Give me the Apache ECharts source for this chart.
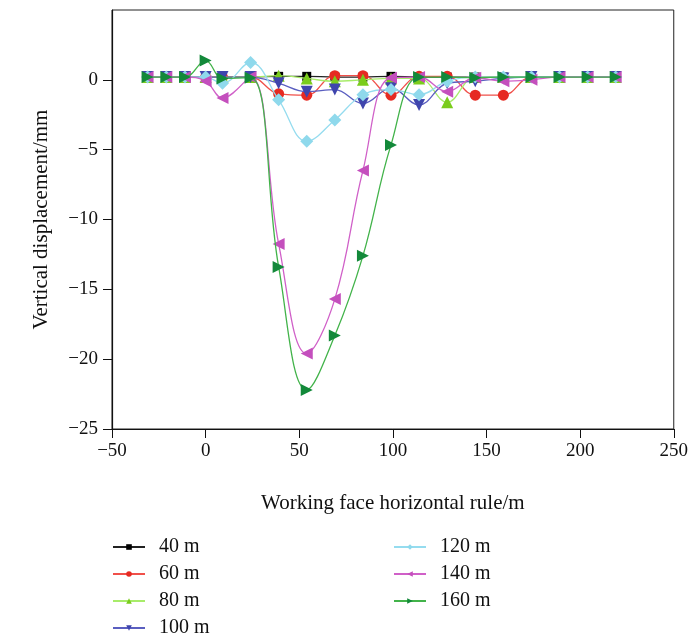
<!DOCTYPE html>
<html>
<head>
<meta charset="utf-8">
<script src="https://cdn.jsdelivr.net/npm/echarts@6/dist/echarts.min.js"></script>
<style>
  html, body { margin: 0; padding: 0; background: #fff; }
  #chart { width: 691px; height: 637px; }
</style>
</head>
<body>
<div id="chart"></div>
<script>
// 横坐标 (m)
const xs = [-31, -21, -11, 0, 9, 24, 39, 54, 69, 84, 99, 114, 129, 144, 159, 174, 189, 204, 219];

// 各工作面推进距离下的竖向位移 (mm)
const s40 = [0.2, 0.2, 0.2, 0.2, 0.2, 0.2, 0.25, 0.25, 0.2, 0.2, 0.25, 0.2, 0.2, 0.2, 0.2, 0.2, 0.2, 0.2, 0.2];
const s60 = [0.2, 0.2, 0.2, 0.2, 0.2, 0.2, -1.0, -1.1, 0.3, 0.3, -1.1, 0.25, 0.25, -1.1, -1.1, 0.2, 0.2, 0.2, 0.2];
const s80 = [0.2, 0.2, 0.2, 0.2, 0.2, 0.2, 0.3, 0.1, -0.1, 0.0, 0.1, 0.1, -1.6, 0.2, 0.2, 0.2, 0.2, 0.2, 0.2];
const s100 = [0.2, 0.2, 0.2, 0.2, 0.2, 0.2, -0.25, -0.85, -0.7, -1.7, -0.6, -1.8, -0.25, -0.1, 0.1, 0.2, 0.2, 0.2, 0.2];
const s120 = [0.2, 0.2, 0.2, 0.2, -0.25, 1.24, -1.43, -4.4, -2.87, -1.07, -0.7, -1.07, -0.1, 0.2, 0.2, 0.2, 0.2, 0.2, 0.2];
const s140 = [0.2, 0.2, 0.2, -0.1, -1.3, 0.2, -11.75, -19.6, -15.7, -6.5, 0.15, 0.2, -0.85, 0.15, -0.1, 0.0, 0.2, 0.2, 0.2];
const s160 = [0.2, 0.2, 0.2, 1.38, 0.1, 0.15, -13.4, -22.2, -18.3, -12.6, -4.66, 0.2, 0.2, 0.15, 0.2, 0.2, 0.2, 0.2, 0.2];

const names = ["40 m", "60 m", "80 m", "100 m", "120 m", "140 m", "160 m"];
const yTicks = [-25, -20, -15, -10, -5, 0];

const font = "Liberation Serif";
const minus = (v) => String(v).replace("-", "\u2212");

// 系列样式
const styles = [
  { data: s40, line: "#222222", mark: "#000000", symbol: "rect", size: 9, rotate: 0 },
  { data: s60, line: "#f0504a", mark: "#e62a22", symbol: "circle", size: 11, rotate: 0 },
  { data: s80, line: "#a8ec6a", mark: "#7acc1c", symbol: "triangle", size: 12, rotate: 0 },
  { data: s100, line: "#5a5ec0", mark: "#3f45ad", symbol: "triangle", size: 12, rotate: 180 },
  { data: s120, line: "#95dcef", mark: "#8fd9ec", symbol: "diamond", size: 13, rotate: 0 },
  { data: s140, line: "#d060c8", mark: "#c44fbd", symbol: "triangle", size: 12, rotate: 90 },
  { data: s160, line: "#42b34a", mark: "#13893a", symbol: "triangle", size: 12, rotate: -90 },
];

const seriesConfig = styles.map((s, i) => ({
  name: names[i],
  type: "line",
  data: xs.map((x, k) => [x, s.data[k]]),
  smooth: 0.4,
  symbol: s.symbol,
  symbolSize: s.size,
  symbolRotate: s.rotate,
  lineStyle: { color: s.line, width: 1.3 },
  itemStyle: { color: s.mark },
  z: 2 + i,
}));

const legendCommon = {
  orient: "vertical",
  itemWidth: 32,
  itemHeight: 7,
  itemGap: 7,
  padding: 0,
  height: 130,
  textStyle: { fontFamily: font, fontSize: 20, lineHeight: 20, color: "#111", padding: [0, 0, 0, 9] },
};

const option = {
  animation: false,
  backgroundColor: "#fff",
  grid: {
    left: 112,
    right: 16,
    top: 10,
    bottom: 208,
    show: true,
    borderColor: "#222",
    borderWidth: 1,
  },
  xAxis: {
    type: "value",
    min: -50,
    max: 250,
    interval: 50,
    name: "Working face horizontal rule/m",
    nameLocation: "middle",
    nameGap: 64,
    nameTextStyle: { fontFamily: font, fontSize: 21, color: "#111" },
    axisLine: { show: true, onZero: false, lineStyle: { color: "#111", width: 1.2 } },
    axisTick: { show: true, inside: false, length: 9, lineStyle: { color: "#111" } },
    axisLabel: { fontFamily: font, fontSize: 19, color: "#111", margin: 13, formatter: minus },
    splitLine: { show: false },
  },
  yAxis: {
    type: "value",
    min: -25,
    max: 5,
    interval: 5,
    name: "Vertical displacement/mm",
    nameLocation: "middle",
    nameGap: 60,
    nameTextStyle: { fontFamily: font, fontSize: 21, color: "#111" },
    axisLine: { show: true, onZero: false, lineStyle: { color: "#111", width: 1.2 } },
    axisTick: { show: true, inside: false, length: 9, lineStyle: { color: "#111" }, customValues: yTicks },
    axisLabel: { fontFamily: font, fontSize: 19, color: "#111", margin: 14, formatter: minus, customValues: yTicks },
    splitLine: { show: false },
  },
  legend: [
    Object.assign({}, legendCommon, { left: 112, top: 537, data: names.slice(0, 4) }),
    Object.assign({}, legendCommon, { left: 393, top: 537, data: names.slice(4) }),
  ],
  series: seriesConfig,
};

const myChart = echarts.init(document.getElementById("chart"));
myChart.setOption(option);
</script>
</body>
</html>
